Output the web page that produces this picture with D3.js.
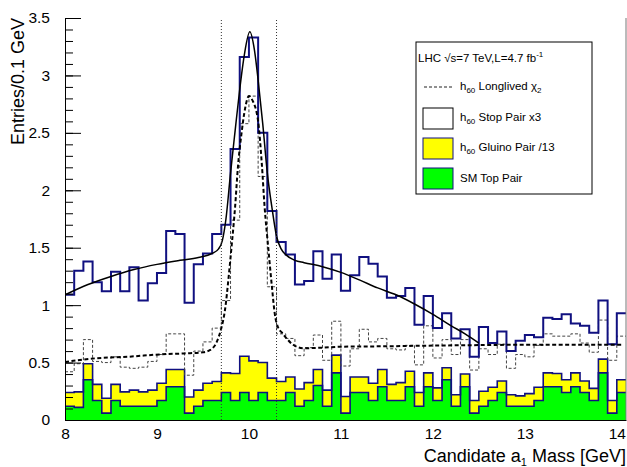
<!DOCTYPE html>
<html>
<head>
    <meta charset="utf-8">
    <!-- Load d3.js -->
    <script src="https://d3js.org/d3.v7.min.js"></script>
    <style>
        body { margin: 0; background: #fff; }
        text { font-family: "Liberation Sans", Arial, sans-serif; }
    </style>
</head>

<body>

    <!-- Create a div where the graph will take place -->
    <div id="my_dataviz"></div>

    <script>

        // histogram binning: 0.1 GeV bins starting at 8 GeV
        var xMin = 8, xMax = 14.1, binWidth = 0.1;

        // h60 Stop Pair x3 (blue outline)
        var stopPair = [1.09, 1.30, 1.38, 1.20, 1.12, 1.29, 1.12, 1.33, 1.04, 1.19,
            1.28, 1.645, 1.62, 1.02, 1.355, 1.45, 1.62, 1.70, 2.36, 3.16,
            3.33, 2.50, 1.82, 1.55, 1.44, 1.18, 1.21, 1.47, 1.23, 1.44,
            1.125, 1.26, 1.42, 1.36, 1.25, 1.065, 1.08, 1.15, 0.83, 1.08,
            0.80, 0.93, 0.71, 0.79, 0.55, 0.81, 0.67, 0.77, 0.60, 0.69,
            0.74, 0.72, 0.89, 0.88, 0.92, 0.84, 0.82, 0.76, 1.04, 0.66, 0.93];

        // h60 Longlived chi2 (grey dashed outline)
        var longlived = [0.42, 0.49, 0.70, 0.51, 0.50, 0.55, 0.46, 0.45, 0.46, 0.51,
            0.57, 0.75, 0.75, 0.39, 0.60, 0.68, 0.80, 1.04, 1.74, 2.58,
            2.82, 2.12, 1.16, 0.75, 0.71, 0.56, 0.63, 0.74, 0.52, 0.86,
            0.47, 0.62, 0.79, 0.68, 0.71, 0.62, 0.61, 0.65, 0.48, 0.82,
            0.54, 0.70, 0.57, 0.70, 0.435, 0.62, 0.57, 0.66, 0.45, 0.57,
            0.55, 0.65, 0.75, 0.73, 0.73, 0.75, 0.67, 0.59, 0.87, 0.52, 0.73];

        // SM Top Pair (green, bottom of the stack)
        var topPair = [0.12, 0.11, 0.35, 0.17, 0.06, 0.17, 0.12, 0.12, 0.12, 0.12,
            0.17, 0.29, 0.29, 0.06, 0.12, 0.17, 0.17, 0.24, 0.17, 0.24,
            0.17, 0.24, 0.17, 0.17, 0.24, 0.12, 0.17, 0.30, 0.12, 0.41,
            0.06, 0.24, 0.24, 0.17, 0.29, 0.17, 0.17, 0.29, 0.12, 0.29,
            0.17, 0.35, 0.12, 0.29, 0.06, 0.12, 0.17, 0.24, 0.12, 0.12,
            0.12, 0.17, 0.29, 0.29, 0.24, 0.29, 0.24, 0.17, 0.41, 0.06, 0.24];

        // h60 Gluino Pair /13 (yellow, stacked on top)
        var gluinoPair = [0.12, 0.135, 0.14, 0.14, 0.13, 0.14, 0.125, 0.14, 0.125, 0.14,
            0.15, 0.15, 0.15, 0.14, 0.14, 0.15, 0.165, 0.17, 0.235, 0.315,
            0.345, 0.26, 0.195, 0.165, 0.135, 0.15, 0.155, 0.14, 0.14, 0.155,
            0.145, 0.135, 0.135, 0.15, 0.15, 0.14, 0.155, 0.135, 0.12, 0.12,
            0.11, 0.105, 0.10, 0.11, 0.11, 0.13, 0.115, 0.10, 0.10, 0.09,
            0.11, 0.115, 0.12, 0.115, 0.11, 0.12, 0.10, 0.105, 0.12, 0.11, 0.11];

        // fitted curve of the stop pair sample (solid black)
        var stopFitX = [8.0, 8.25, 8.5, 8.75, 9.0, 9.25, 9.45, 9.6, 9.67, 9.71,
            9.75, 9.8, 9.85, 9.9, 9.95, 10.01, 10.06, 10.1, 10.15, 10.2,
            10.25, 10.3, 10.35, 10.4, 10.5, 10.6, 10.8, 11.0, 11.2, 11.4,
            11.6, 11.8, 12.0, 12.2, 12.35, 12.5];
        var stopFitY = [1.09, 1.18, 1.25, 1.31, 1.355, 1.39, 1.415, 1.45, 1.49, 1.56,
            1.75, 2.15, 2.52, 2.88, 3.18, 3.38, 3.22, 2.96, 2.58, 2.15,
            1.85, 1.60, 1.49, 1.44, 1.39, 1.37, 1.335, 1.285, 1.22, 1.15,
            1.09, 1.01, 0.92, 0.82, 0.75, 0.67];

        // fitted curve of the longlived sample (black dashed)
        var llFitX = [8.0, 8.33, 8.69, 9.05, 9.3, 9.5, 9.58, 9.65, 9.7, 9.74,
            9.78, 9.81, 9.85, 9.88, 9.92, 9.96, 10.0, 10.04, 10.1, 10.14,
            10.17, 10.21, 10.25, 10.28, 10.32, 10.36, 10.41, 10.48, 10.59, 10.8,
            11.0, 11.5, 12.0, 12.5, 13.0, 13.5, 14.05];
        var llFitY = [0.505, 0.537, 0.551, 0.572, 0.58, 0.59, 0.61, 0.68, 0.80, 0.96,
            1.25, 1.50, 1.86, 2.20, 2.50, 2.72, 2.82, 2.78, 2.60, 2.23,
            1.86, 1.50, 1.16, 0.93, 0.80, 0.76, 0.71, 0.655, 0.625, 0.63,
            0.638, 0.642, 0.648, 0.652, 0.655, 0.655, 0.655];

        // mass window cuts and axis ticks
        var windowCuts = [9.7, 10.3];
        var xTicks = [8, 9, 10, 11, 12, 13, 14];
        var yTicks = [0, 0.5, 1, 1.5, 2, 2.5, 3, 3.5];

        // dimensions (frame edges in pixels)
        var width = 627, height = 467;
        var frameL = 65, frameR = 626, frameT = 18, frameB = 420;

        var svg = d3.select("#my_dataviz")
            .append("svg")
            .attr("width", width)
            .attr("height", height);

        var x = d3.scaleLinear().domain([xMin, xMax]).range([frameL, frameR]);
        var y = d3.scaleLinear().domain([0, 3.5]).range([frameB, frameT]);

        svg.append("clipPath").attr("id", "plotclip")
            .append("rect")
            .attr("x", frameL).attr("y", frameT - 2)
            .attr("width", frameR - frameL).attr("height", frameB - frameT + 2);

        // X axis (ticks point inwards, drawn first so the fills cover them)
        svg.append("g")
            .attr("transform", "translate(0," + frameB + ")")
            .call(d3.axisBottom(x).tickValues(d3.range(8, 14.05, 0.5)).tickSize(-8).tickSizeOuter(0).tickFormat(""))
            .call(function (g) { g.select(".domain").remove(); });
        var xAxis = svg.append("g")
            .attr("transform", "translate(0," + frameB + ")")
            .call(d3.axisBottom(x).tickValues(xTicks).tickSize(-16).tickSizeOuter(0).tickPadding(8)
                .tickFormat(function (d) { return d; }));
        xAxis.selectAll("text").attr("font-size", "15.5px").attr("fill", "#000")
            .attr("font-family", "'Liberation Sans', Arial, sans-serif");
        xAxis.select(".domain").attr("stroke", "#000");

        // helper: bin edges with a closing point for step curves
        function stepPoints(values) {
            var pts = values.map(function (v, i) { return [xMin + i * binWidth, v]; });
            pts.push([xMin + values.length * binWidth, values[values.length - 1]]);
            return pts;
        }

        var plot = svg.append("g").attr("clip-path", "url(#plotclip)");

        // stacked SM top pair + gluino pair
        var rows = topPair.map(function (t, i) { return { top: t, gluino: gluinoPair[i], x: xMin + i * binWidth }; });
        rows.push({ top: topPair[topPair.length - 1], gluino: gluinoPair[gluinoPair.length - 1], x: xMin + topPair.length * binWidth });
        var stacked = d3.stack().keys(["top", "gluino"])(rows);
        var fills = { top: "#00ff00", gluino: "#ffff00" };

        stacked.forEach(function (layer) {
            plot.append("path")
                .datum(layer)
                .attr("fill", fills[layer.key])
                .attr("stroke", "none")
                .attr("d", d3.area()
                    .curve(d3.curveStepAfter)
                    .x(function (d) { return x(d.data.x); })
                    .y0(function (d) { return y(d[0]); })
                    .y1(function (d) { return y(d[1]); }));
        });
        stacked.forEach(function (layer) {
            plot.append("path")
                .datum(layer)
                .attr("fill", "none")
                .attr("stroke", "#101080")
                .attr("stroke-width", 1.6)
                .attr("d", d3.line()
                    .curve(d3.curveStepAfter)
                    .x(function (d) { return x(d.data.x); })
                    .y(function (d) { return y(d[1]); }));
        });

        var stepLine = d3.line()
            .curve(d3.curveStepAfter)
            .x(function (d) { return x(d[0]); })
            .y(function (d) { return y(d[1]); });

        // longlived histogram
        plot.append("path")
            .datum(stepPoints(longlived))
            .attr("fill", "none")
            .attr("stroke", "#444")
            .attr("stroke-width", 1)
            .attr("stroke-dasharray", "3,2")
            .attr("d", stepLine);

        // stop pair histogram
        plot.append("path")
            .datum(stepPoints(stopPair))
            .attr("fill", "none")
            .attr("stroke", "#101080")
            .attr("stroke-width", 2)
            .attr("d", stepLine);

        // fits
        var fitLine = d3.line()
            .curve(d3.curveMonotoneX)
            .x(function (d) { return x(d[0]); })
            .y(function (d) { return y(d[1]); });

        plot.append("path")
            .datum(llFitX.map(function (v, i) { return [v, llFitY[i]]; }))
            .attr("fill", "none")
            .attr("stroke", "#000")
            .attr("stroke-width", 2)
            .attr("stroke-dasharray", "4,2.5")
            .attr("d", fitLine);

        plot.append("path")
            .datum(stopFitX.map(function (v, i) { return [v, stopFitY[i]]; }))
            .attr("fill", "none")
            .attr("stroke", "#000")
            .attr("stroke-width", 1.5)
            .attr("d", fitLine);

        // mass window
        svg.selectAll(".cut")
            .data(windowCuts)
            .enter().append("line")
            .attr("class", "cut")
            .attr("x1", function (d) { return x(d); })
            .attr("x2", function (d) { return x(d); })
            .attr("y1", y(0))
            .attr("y2", y(3.5))
            .attr("stroke", "#333")
            .attr("stroke-width", 1)
            .attr("stroke-dasharray", "1,2");

        // Y axis: minor and major ticks inwards
        svg.append("g")
            .attr("transform", "translate(" + frameL + ",0)")
            .call(d3.axisLeft(y).tickValues(d3.range(0, 3.55, 0.1)).tickSize(-8).tickSizeOuter(0).tickFormat(""))
            .call(function (g) { g.select(".domain").remove(); });
        var yAxis = svg.append("g")
            .attr("transform", "translate(" + frameL + ",0)")
            .call(d3.axisLeft(y).tickValues(yTicks).tickSize(-16).tickSizeOuter(0).tickPadding(15)
                .tickFormat(function (d) { return d; }));
        yAxis.selectAll("text").attr("font-size", "15.5px").attr("fill", "#000")
            .attr("font-family", "'Liberation Sans', Arial, sans-serif");
        yAxis.select(".domain").attr("stroke", "#000");

        // right frame
        svg.append("line")
            .attr("x1", frameR).attr("x2", frameR)
            .attr("y1", frameT).attr("y2", frameB)
            .attr("stroke", "#777");

        // axis titles
        var xt = svg.append("text")
            .attr("x", frameR)
            .attr("y", 462)
            .attr("text-anchor", "end")
            .attr("font-size", "18px");
        xt.append("tspan").text("Candidate a");
        xt.append("tspan").attr("font-size", "11px").attr("dy", 4).text("1");
        xt.append("tspan").attr("dy", -4).text(" Mass [GeV]");

        svg.append("text")
            .attr("text-anchor", "end")
            .attr("transform", "translate(24," + frameT + ") rotate(-90)")
            .attr("font-size", "18px")
            .text("Entries/0.1 GeV");

        // legend
        var lg = svg.append("g");
        lg.append("rect")
            .attr("x", 416).attr("y", 42)
            .attr("width", 176).attr("height", 152)
            .attr("fill", "#fff").attr("stroke", "#000").attr("stroke-width", 1);

        var t1 = lg.append("text").attr("x", 418).attr("y", 62).attr("font-size", "11.5px");
        t1.append("tspan").text("LHC \u221As=7 TeV,L=4.7 fb");
        t1.append("tspan").attr("font-size", "8px").attr("dy", -5).text("-1");

        lg.append("line")
            .attr("x1", 424).attr("x2", 453)
            .attr("y1", 87).attr("y2", 87)
            .attr("stroke", "#222").attr("stroke-width", 1.2)
            .attr("stroke-dasharray", "3,2");

        function h60Label(yPos, rest, sub) {
            var t = lg.append("text").attr("x", 460).attr("y", yPos).attr("font-size", "11.5px");
            t.append("tspan").text("h");
            t.append("tspan").attr("font-size", "8px").attr("dy", 3).text("60");
            t.append("tspan").attr("dy", -3).text(" " + rest);
            if (sub) {
                t.append("tspan").attr("font-size", "8px").attr("dy", 3).text(sub);
            }
        }
        h60Label(90, "Longlived \u03C7", "2");

        lg.append("rect").attr("x", 423).attr("y", 108).attr("width", 30).attr("height", 21)
            .attr("fill", "#fff").attr("stroke", "#000").attr("stroke-width", 1);
        h60Label(121, "Stop Pair x3");

        lg.append("rect").attr("x", 423).attr("y", 138).attr("width", 30).attr("height", 21)
            .attr("fill", "#ffff00").attr("stroke", "#101080").attr("stroke-width", 1);
        h60Label(151, "Gluino Pair /13");

        lg.append("rect").attr("x", 423).attr("y", 168).attr("width", 30).attr("height", 21)
            .attr("fill", "#00ff00").attr("stroke", "#101080").attr("stroke-width", 1);
        lg.append("text").attr("x", 460).attr("y", 182).attr("font-size", "11.5px").text("SM Top Pair");

    </script>
</body>

</html>
